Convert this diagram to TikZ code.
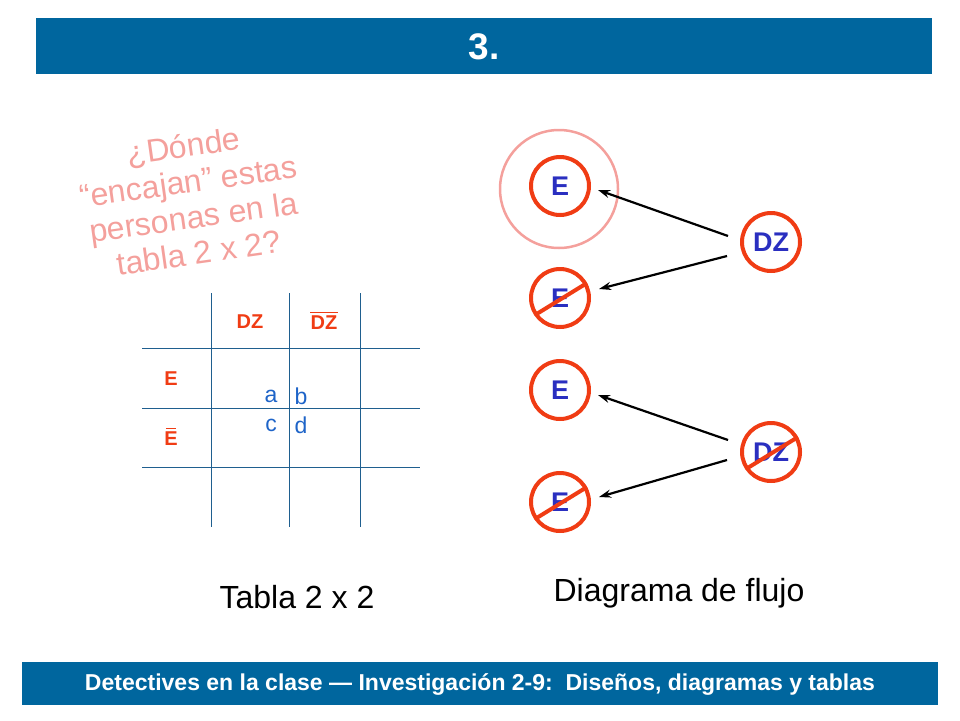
\documentclass[tikz,border=0pt]{standalone}
\usepackage{fontspec}
\setmainfont{Liberation Sans}
\usetikzlibrary{arrows.meta,calc}
\definecolor{barblue}{HTML}{00669E}
\definecolor{redline}{HTML}{F03C14}
\definecolor{letterblue}{HTML}{2A2FC0}
\definecolor{abcd}{HTML}{1E64C8}
\definecolor{pinktext}{HTML}{F4A09C}
\definecolor{gridline}{HTML}{1F5F8F}
\def\slash#1{($(#1)+(-25,17)$) -- ($(#1)+(27,-15)$)}
\tikzset{
  circ/.style={circle, draw=redline, line width=4pt, minimum size=58pt, inner sep=0pt,
    text=letterblue, font=\bfseries\fontsize{27}{29}\selectfont},
  lab/.style={text=redline, font=\bfseries\fontsize{20}{22}\selectfont},
  cell/.style={text=abcd, font=\fontsize{23}{25}\selectfont},
  flow/.style={-{Stealth[length=12pt,width=8pt]}, line width=2.2pt}
}
\begin{document}
\begin{tikzpicture}[x=1pt,y=-1pt]
    \useasboundingbox (0,0) rectangle (960,720);
    % header and footer
    \fill[barblue] (36,18) rectangle (932,74);
    \node[text=white, font=\bfseries\fontsize{37}{39}\selectfont] (title) at (484,47) {3.};
    \fill[barblue] (22,662) rectangle (938,705);
    \node[text=white, font=\bfseries\fontsize{23}{25}\selectfont] (foot) at (480,684)
      {Detectives en la clase --- Investigación 2-9:\ \ Diseños, diagramas y tablas};

    % question
    \node[text=pinktext, align=center, rotate=8, font=\fontsize{32}{36}\selectfont] (q) at (191,199)
      {¿Dónde\\“encajan” estas\\personas en la\\tabla 2 x 2?};

    % table
    \foreach \x in {211,289,360} \draw[gridline, line width=1pt] (\x,293) -- (\x,527);
    \foreach \y in {348,408,467} \draw[gridline, line width=1pt] (142,\y) -- (420,\y);
    \node[lab] (dz) at (250,322) {DZ};
    \node[lab] (ndz) at (324,323) {DZ};
    \draw[redline, line width=1.5pt] ($(ndz.north west)+(3,0)$) -- ($(ndz.north east)+(-3,0)$);
    \node[lab] (e) at (171,379) {E};
    \node[lab] (ne) at (171,439) {E};
    \draw[redline, line width=1.5pt] ($(ne.north west)+(5,0)$) -- ($(ne.north east)+(-5,0)$);
    \node[cell] (a) at (271,396) {a};
    \node[cell] (b) at (301,396) {b};
    \node[cell] (c) at (271,425) {c};
    \node[cell] (d) at (301,425) {d};
    \node[font=\fontsize{32}{34}\selectfont] (tabla) at (297,597) {Tabla 2 x 2};

    % flow diagram
    \draw[pinktext, line width=2.5pt] (559,189) circle (59);
    \node[circ] (e1) at (560,186) {E};
    \node[circ] (e2) at (560,298) {E};
    \node[circ] (e3) at (560,390) {E};
    \node[circ] (e4) at (560,502) {E};
    \node[circ] (dz1) at (771,242) {DZ};
    \node[circ] (dz2) at (771,452) {DZ};
    \foreach \n in {e2,e4,dz2} \draw[redline, line width=4pt] \slash{\n};
    \draw[flow] ($(dz1.west)+(-12,-6)$) -- ($(e1.east)+(7,4)$);
    \draw[flow] ($(dz1.west)+(-13,14)$) -- ($(e2.east)+(8,-9)$);
    \draw[flow] ($(dz2.west)+(-12,-12)$) -- ($(e3.east)+(7,5)$);
    \draw[flow] ($(dz2.west)+(-13,8)$) -- ($(e4.east)+(8,-5)$);
    \node[font=\fontsize{32}{34}\selectfont] (flujo) at (679,593) {Diagrama de flujo};
\end{tikzpicture}
\end{document}
